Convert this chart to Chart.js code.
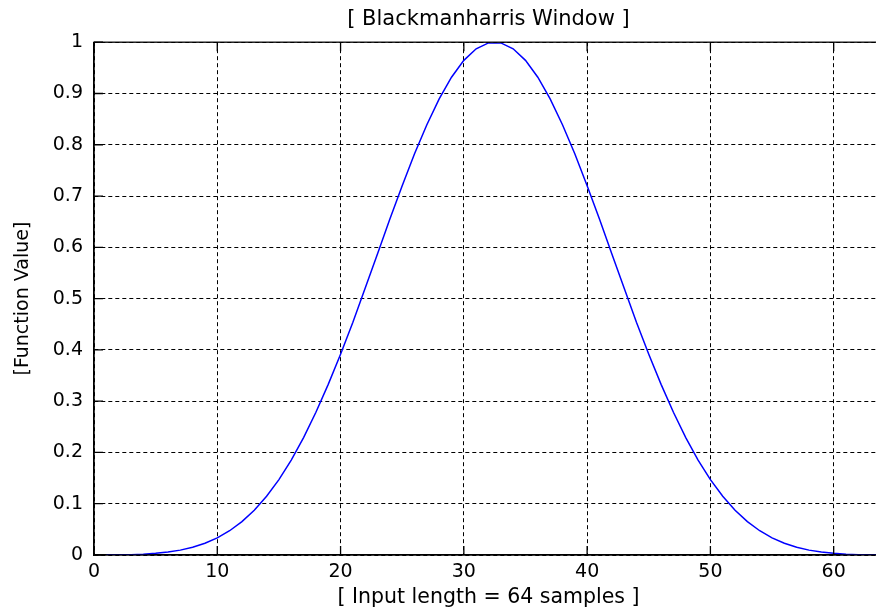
<!DOCTYPE html>
<html>
<head>
<meta charset="utf-8">
<script src="https://cdn.jsdelivr.net/npm/chart.js@4/dist/chart.umd.min.js"></script>
<style>
  html, body { margin: 0; padding: 0; background: #fff; overflow: hidden; }
  #wrap { width: 883px; height: 610px; }
</style>
</head>
<body>
<div id="wrap"><canvas id="windowChart"></canvas></div>
<script>
const sampleIndex = [
  1, 2, 3, 4, 5, 6, 7, 8, 9, 10, 11, 12, 13, 14, 15, 16,
  17, 18, 19, 20, 21, 22, 23, 24, 25, 26, 27, 28, 29, 30, 31, 32,
  33, 34, 35, 36, 37, 38, 39, 40, 41, 42, 43, 44, 45, 46, 47, 48,
  49, 50, 51, 52, 53, 54, 55, 56, 57, 58, 59, 60, 61, 62, 63, 64
];
const windowValues = [
  0.0001, 0.0002, 0.0007, 0.0016, 0.0032, 0.0057, 0.0095, 0.0151,
  0.0228, 0.0334, 0.0473, 0.0650, 0.0873, 0.1145, 0.1470, 0.1852,
  0.2289, 0.2783, 0.3328, 0.3914, 0.4538, 0.5206, 0.5874, 0.6552,
  0.7200, 0.7824, 0.8390, 0.8894, 0.9317, 0.9646, 0.9871, 0.9986,
  0.9986, 0.9871, 0.9646, 0.9317, 0.8894, 0.8390, 0.7824, 0.7200,
  0.6552, 0.5874, 0.5206, 0.4538, 0.3914, 0.3328, 0.2783, 0.2289,
  0.1852, 0.1470, 0.1145, 0.0873, 0.0650, 0.0473, 0.0334, 0.0228,
  0.0151, 0.0095, 0.0057, 0.0032, 0.0016, 0.0007, 0.0002, 0.0001
];
const titleText = "[ Blackmanharris Window ]";
const xLabel = "[ Input length = 64 samples ]";
const yLabel = "[Function Value]";

const fontFamily = "'DejaVu Sans', sans-serif";

// matlab-style box: solid frame + short inward ticks
const boxPlugin = {
  id: "matlabBox",
  afterDraw(chart) {
    const ctx = chart.ctx;
    const a = chart.chartArea;
    const xs = chart.scales.x;
    const ys = chart.scales.y;
    ctx.save();
    ctx.strokeStyle = "#000";
    ctx.lineWidth = 1.3;
    ctx.setLineDash([]);
    ctx.strokeRect(a.left, a.top, a.right - a.left, a.bottom - a.top);
    ctx.beginPath();
    xs.ticks.forEach(t => {
      const px = xs.getPixelForValue(t.value);
      ctx.moveTo(px, a.bottom); ctx.lineTo(px, a.bottom - 9);
      ctx.moveTo(px, a.top); ctx.lineTo(px, a.top + 9);
    });
    ys.ticks.forEach(t => {
      const py = ys.getPixelForValue(t.value);
      ctx.moveTo(a.left, py); ctx.lineTo(a.left + 9, py);
    });
    ctx.stroke();
    ctx.restore();
  }
};

new Chart(document.getElementById("windowChart"), {
  type: "line",
  data: {
    datasets: [{
      data: sampleIndex.map((x, i) => ({ x: x, y: windowValues[i] })),
      borderColor: "#0000ff",
      borderWidth: 1.5,
      pointRadius: 0,
      tension: 0,
      fill: false
    }]
  },
  options: {
    responsive: true,
    maintainAspectRatio: false,
    animation: false,
    layout: { padding: 0 },
    plugins: {
      legend: { display: false },
      tooltip: { enabled: false },
      title: {
        display: true,
        text: titleText,
        color: "#000",
        fullSize: false,
        font: { family: fontFamily, size: 21, weight: "normal" },
        padding: { top: 7, bottom: 10 }
      }
    },
    scales: {
      x: {
        type: "linear",
        min: 0,
        max: 64,
        afterFit(scale) { scale.height = 55; },
        ticks: {
          stepSize: 10,
          includeBounds: false,
          color: "#000",
          padding: 6,
          maxRotation: 0,
          font: { family: fontFamily, size: 19 }
        },
        grid: {
          color: "#000",
          lineWidth: 1,
          drawTicks: false
        },
        border: { display: true, color: "#000", width: 1.3, dash: [4, 3] },
        title: {
          display: true,
          text: xLabel,
          color: "#000",
          font: { family: fontFamily, size: 20.5 },
          padding: { top: 0, bottom: 0 }
        }
      },
      y: {
        min: 0,
        max: 1,
        afterFit(scale) { scale.width = 94; },
        ticks: {
          stepSize: 0.1,
          color: "#000",
          padding: 11,
          font: { family: fontFamily, size: 19 },
          callback: v => String(Number(v.toFixed(1)))
        },
        grid: {
          color: "#000",
          lineWidth: 1,
          drawTicks: false
        },
        border: { display: true, color: "#000", width: 1.3, dash: [4, 3] },
        title: {
          display: true,
          text: yLabel,
          color: "#000",
          font: { family: fontFamily, size: 19 },
          padding: { top: 12, bottom: 0 }
        }
      }
    }
  },
  plugins: [boxPlugin]
});
</script>
</body>
</html>
